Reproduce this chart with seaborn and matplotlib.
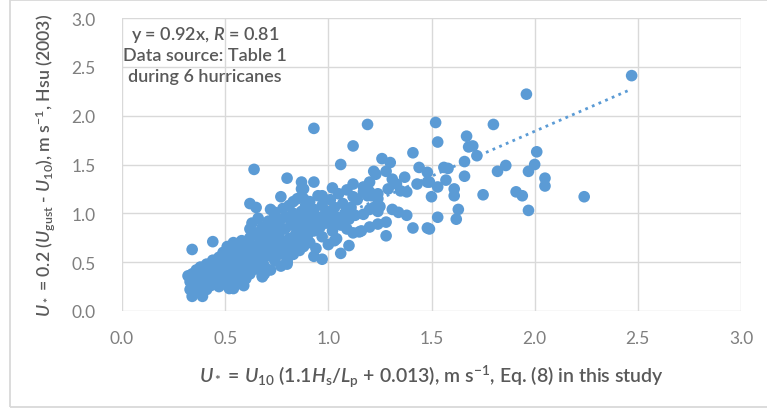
import numpy as np
import pandas as pd
import matplotlib
matplotlib.use("Agg")
import matplotlib.pyplot as plt
import seaborn as sns
from matplotlib.patches import Rectangle

# ---- data ----
SLOPE = 0.92
R_VALUE = 0.81
annotation_lines = ["y = 0.92x, $R$ = 0.81", "Data source: Table 1", "during 6 hurricanes"]
x_ticks = [0.0, 0.5, 1.0, 1.5, 2.0, 2.5, 3.0]
y_ticks = [0.0, 0.5, 1.0, 1.5, 2.0, 2.5, 3.0]
x_label = "$U_*$ = $U_{10}$ (1.1$H_{\\mathrm{s}}$/$L_{\\mathrm{p}}$ + 0.013), m s$^{-1}$, Eq. (8) in this study"
y_label = "$U_*$ = 0.2 ($U_{\\mathrm{gust}}$ - $U_{10}$), m s$^{-1}$, Hsu (2003)"

pts_right = [(2.47, 2.41), (1.96, 2.22), (2.24, 1.17), (1.80, 1.91), (1.52, 1.93), (1.53, 1.73),
             (1.67, 1.79), (1.68, 1.68), (1.70, 1.69), (1.72, 1.59), (1.66, 1.53), (1.56, 1.47),
             (1.58, 1.46), (1.86, 1.49), (1.82, 1.43), (2.01, 1.63), (2.00, 1.50), (1.97, 1.43),
             (2.05, 1.36), (2.05, 1.28), (1.91, 1.22), (1.94, 1.18), (1.97, 1.03), (1.75, 1.19),
             (1.66, 1.38), (1.57, 1.34), (1.53, 1.27), (1.50, 1.17), (1.61, 1.25), (1.61, 1.18),
             (1.63, 1.04), (1.62, 0.94), (1.53, 0.96), (1.49, 1.32), (1.49, 0.84)]

pts_mid = [(1.19, 1.91), (1.41, 1.62), (1.26, 1.56), (1.30, 1.52), (1.28, 1.43), (1.22, 1.43),
           (1.23, 1.40), (1.44, 1.47), (1.48, 1.42), (1.37, 1.37), (1.31, 1.35), (1.33, 1.30),
           (1.43, 1.30), (1.48, 1.32), (1.29, 1.25), (1.35, 1.23), (1.38, 1.22), (1.20, 1.22),
           (1.24, 1.20), (1.25, 1.07), (1.22, 1.06), (1.31, 1.04), (1.34, 1.01), (1.38, 0.98),
           (1.28, 0.91), (1.24, 0.89), (1.20, 0.86), (1.41, 0.85), (1.48, 0.85), (1.28, 0.77),
           (1.20, 1.32), (1.21, 1.18), (1.20, 1.04)]

pts_upper_left = [(0.93, 1.87), (1.12, 1.69), (1.06, 1.50), (0.80, 1.36), (0.87, 1.32), (0.93, 1.32),
                  (0.87, 1.25), (1.02, 1.26), (0.97, 1.18), (1.17, 1.27), (0.77, 1.17), (1.09, 0.84),
                  (1.16, 0.82), (1.10, 0.67), (1.06, 0.59), (1.03, 0.72), (0.93, 0.56), (0.97, 0.53),
                  (0.80, 0.50), (1.04, 0.74), (1.17, 0.99), (1.24, 1.02), (0.83, 1.12), (0.88, 1.15),
                  (0.88, 1.25), (1.12, 1.17), (1.17, 1.22), (1.19, 1.18), (1.24, 1.15), (1.02, 0.92),
                  (1.07, 0.92), (1.15, 0.81), (1.12, 0.80), (0.64, 1.45)]

pts_left_edge = [(0.62, 1.10), (0.65, 1.06), (0.72, 1.04), (0.74, 1.01), (0.34, 0.63), (0.44, 0.71),
                 (0.62, 0.84), (0.34, 0.15), (0.39, 0.15), (0.54, 0.23), (0.59, 0.26), (0.69, 0.38),
                 (0.32, 0.36), (0.52, 0.23), (0.68, 0.36), (0.80, 0.48), (0.35, 0.20)]

pts_cloud_a = [(0.33, 0.22), (0.33, 0.30), (0.34, 0.38), (0.35, 0.25), (0.35, 0.33), (0.36, 0.42),
               (0.37, 0.20), (0.37, 0.30), (0.38, 0.36), (0.38, 0.45), (0.39, 0.27), (0.40, 0.33),
               (0.40, 0.40), (0.41, 0.22), (0.41, 0.48), (0.42, 0.30), (0.42, 0.38), (0.43, 0.44),
               (0.43, 0.26), (0.44, 0.34), (0.44, 0.52), (0.45, 0.40), (0.45, 0.29), (0.46, 0.47),
               (0.46, 0.36)]

pts_cloud_b = [(0.47, 0.55), (0.47, 0.25), (0.48, 0.42), (0.48, 0.33), (0.49, 0.60), (0.49, 0.50),
               (0.50, 0.38), (0.50, 0.28), (0.51, 0.45), (0.51, 0.66), (0.52, 0.55), (0.52, 0.34),
               (0.53, 0.48), (0.53, 0.62), (0.54, 0.40), (0.54, 0.70), (0.55, 0.52), (0.55, 0.30),
               (0.56, 0.58), (0.56, 0.44), (0.57, 0.36), (0.57, 0.66), (0.58, 0.50), (0.58, 0.72),
               (0.59, 0.42), (0.59, 0.60), (0.60, 0.55), (0.60, 0.33), (0.61, 0.68), (0.61, 0.47)]

pts_cloud_c = [(0.62, 0.38), (0.62, 0.75), (0.63, 0.58), (0.63, 0.90), (0.64, 0.50), (0.64, 0.66),
               (0.65, 0.43), (0.65, 0.80), (0.66, 0.60), (0.66, 0.95), (0.67, 0.52), (0.67, 0.72),
               (0.68, 0.35), (0.68, 0.86), (0.69, 0.64), (0.69, 0.46), (0.70, 0.78), (0.70, 0.56),
               (0.71, 0.92), (0.71, 0.68), (0.72, 0.42), (0.72, 0.60), (0.73, 0.84), (0.73, 0.74),
               (0.74, 0.52), (0.74, 0.98), (0.75, 0.66), (0.75, 0.88)]

pts_cloud_d = [(0.76, 0.58), (0.76, 0.78), (0.77, 0.46), (0.77, 0.94), (0.78, 0.70), (0.78, 1.05),
               (0.79, 0.62), (0.79, 0.84), (0.80, 0.52), (0.80, 0.96), (0.81, 0.74), (0.81, 1.08),
               (0.82, 0.66), (0.82, 0.88), (0.83, 0.58), (0.83, 1.00), (0.84, 0.78), (0.84, 0.70),
               (0.85, 0.92), (0.85, 1.15), (0.86, 0.62), (0.86, 0.84), (0.87, 1.02), (0.87, 0.74),
               (0.88, 0.94), (0.88, 0.66), (0.89, 0.86), (0.89, 1.08), (0.90, 0.78), (0.90, 0.98)]

pts_cloud_e = [(0.91, 0.70), (0.91, 1.12), (0.92, 0.90), (0.93, 0.82), (0.93, 1.04), (0.94, 0.64),
               (0.95, 0.96), (0.95, 1.18), (0.96, 0.86), (0.97, 0.76), (0.97, 1.08), (0.98, 0.98),
               (0.99, 0.90), (1.00, 1.02), (1.00, 0.68), (1.01, 1.14), (1.02, 0.82), (1.03, 1.06),
               (1.04, 0.96), (1.05, 1.20), (1.06, 0.88), (1.07, 1.10), (1.08, 1.00), (1.09, 1.24),
               (1.10, 0.94), (1.11, 1.06), (1.12, 1.30), (1.13, 0.98), (1.14, 1.14)]

groups = [pts_right, pts_mid, pts_upper_left, pts_left_edge,
          pts_cloud_a, pts_cloud_b, pts_cloud_c, pts_cloud_d, pts_cloud_e]
df = pd.DataFrame([p for g in groups for p in g], columns=["eq8", "hsu"])

# ---- style ----
BLUE = "#5B9BD5"
GRID = "#D9D9D9"
sns.set_theme(style="white")
plt.rcParams['font.family'] = ['Lato', 'DejaVu Sans']
plt.rcParams['mathtext.fontset'] = 'custom'
plt.rcParams['mathtext.rm'] = 'Lato:semibold'
plt.rcParams['mathtext.it'] = 'Lato:italic:semibold'
plt.rcParams['mathtext.bf'] = 'Lato:bold'

W, H = 767, 410
fig = plt.figure(figsize=(W / 100, H / 100), dpi=100)
fig.patch.set_facecolor("white")
# chart-area border: left, top, bottom (no visible right edge)
fig.add_artist(Rectangle((10 / W, 1 - 408 / H), 1.0, (408 - 1) / H, transform=fig.transFigure,
                         fill=False, edgecolor=GRID, lw=1.3, clip_on=False))
ax = fig.add_axes([122 / W, 1 - 312 / H, (741 - 122) / W, (312 - 19) / H])

sns.scatterplot(data=df, x="eq8", y="hsu", ax=ax, s=70, color=BLUE,
                edgecolor="none", linewidth=0, alpha=1, zorder=3)
xs = np.array([df["eq8"].min(), df["eq8"].max()])
ax.plot(xs, SLOPE * xs, linestyle=(0, (1, 1.6)), color=BLUE, lw=2.0, zorder=4)

ax.set_xlim(0, 3)
ax.set_ylim(0, 3)
ax.set_xticks(x_ticks)
ax.set_yticks(y_ticks)
ax.set_xticklabels([f"{t:.1f}" for t in x_ticks])
ax.set_yticklabels([f"{t:.1f}" for t in y_ticks])
ax.tick_params(axis="x", length=0, labelsize=12.5, colors="#7F7F7F", pad=13.5)
ax.tick_params(axis="y", length=0, labelsize=12.5, colors="#7F7F7F", pad=19)
ax.grid(True, color=GRID, lw=1)
ax.set_axisbelow(True)
for s in ax.spines.values():
    s.set_visible(False)

plot_w, plot_h = 741 - 122, 312 - 19
ax.set_xlabel(x_label, fontsize=14, fontweight="semibold", color="#595959", va="center", ha="center")
ax.xaxis.set_label_coords(0.5, (312 - 377) / plot_h)
ax.set_ylabel(y_label, fontsize=12.7, fontweight="semibold", color="#595959", va="center", ha="center")
ax.yaxis.set_label_coords((45 - 122) / plot_w, 0.5)

for i, line in enumerate(annotation_lines):
    fig.text(205 / W, 1 - (35 + 21 * i) / H, line, ha="center", va="center",
             fontsize=13, fontweight="semibold", color="#595959")

fig.savefig("out.png", dpi=100, facecolor="white")
